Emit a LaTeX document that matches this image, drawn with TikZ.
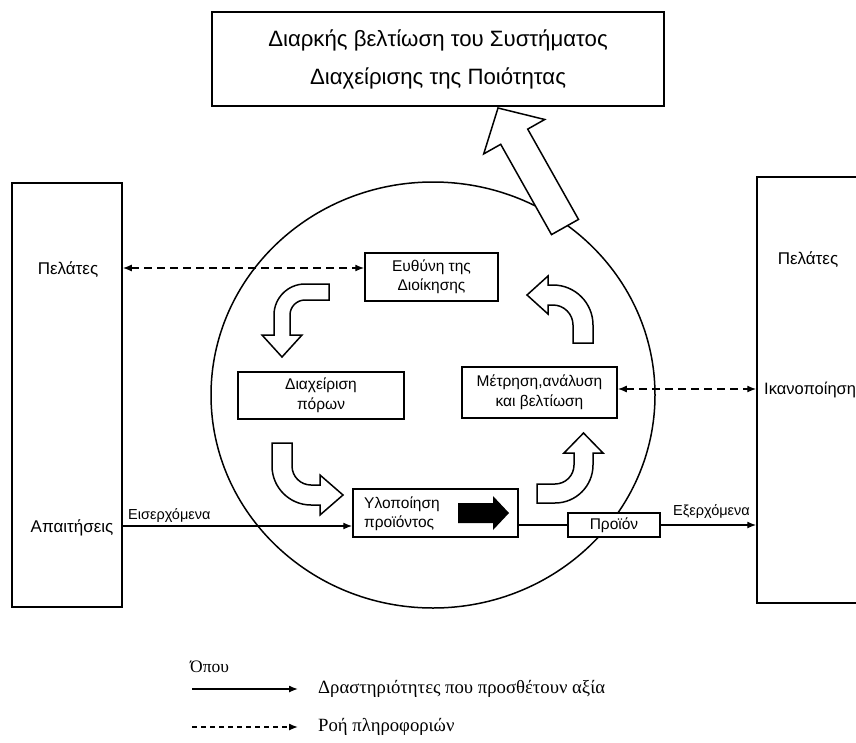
\documentclass[tikz,border=0pt]{standalone}
\usepackage{fontspec}
\setmainfont{Liberation Sans}
\newfontfamily\legendfont{Liberation Serif}
\usetikzlibrary{arrows.meta}
\begin{document}
\begin{tikzpicture}[x=1pt,y=-1pt,
  box/.style={draw, line width=1.5pt, fill=white, inner sep=0pt, align=center},
  lbl/.style={inner sep=0pt, font=\fontsize{17}{20}\selectfont},
  inbox/.style={box, font=\fontsize{15.5}{19.5}\selectfont},
  flow/.style={line width=1.4pt, -{Latex[length=9pt,width=7pt]}},
  info/.style={line width=1.4pt, dash pattern=on 8pt off 5pt, {Latex[length=9pt,width=7pt]}-{Latex[length=9pt,width=7pt]}},
  legdash/.style={line width=1.4pt, dash pattern=on 5pt off 4pt, -{Latex[length=9pt,width=7pt]}},
  block/.style={draw, line width=1.5pt, fill=white, line join=miter},
  small/.style={inner sep=1pt, font=\fontsize{14.5}{17}\selectfont},
  legtext/.style={anchor=west, inner sep=0pt, font=\legendfont\fontsize{18.7}{22}\selectfont}
]
\useasboundingbox (0,0) rectangle (856,742);
\clip (0,0) rectangle (856,742);

% central circle
\draw[line width=1.5pt] (433,395) ellipse [x radius=222, y radius=213];

% big arrow towards the top box
\path[block] (578.5,219.4) -- (527.7,129.1) -- (544.7,119.5) -- (498,108)
  -- (483.7,153.9) -- (500.7,144.3) -- (551.5,234.6) -- cycle;

% top box
\node[box, minimum width=452pt, minimum height=94pt, font=\fontsize{22.2}{38}\selectfont] (top) at (438,59)
  {Διαρκής βελτίωση του Συστήματος\\Διαχείρισης της Ποιότητας};

% side boxes
\node[box, minimum width=110pt, minimum height=424pt] (lb) at (67,395) {};
\node[box, minimum width=146pt, minimum height=426pt] (rb) at (830,390) {};
\node[lbl] (lpel) at (68,270) {Πελάτες};
\node[lbl] (apa) at (72,528) {Απαιτήσεις};
\node[lbl] (rpel) at (808,260) {Πελάτες};
\node[lbl, anchor=west, font=\fontsize{16.5}{18}\selectfont] (ikan) at (764,390) {Ικανοποίηση};

% inner boxes
\node[inbox, minimum width=133pt, minimum height=48pt] (eu) at (431.5,277) {Ευθύνη της\\Διοίκησης};
\node[inbox, minimum width=166pt, minimum height=47pt] (dp) at (321,395.5) {Διαχείριση\\πόρων};
\node[inbox, minimum width=155pt, minimum height=51pt] (mt) at (539.5,392.5) {Μέτρηση,ανάλυση\\και βελτίωση};
\node[box, minimum width=165pt, minimum height=48pt] (ylo) at (435.5,513) {};
\node[inner sep=0pt, anchor=west, align=left, font=\fontsize{15.5}{19.5}\selectfont] (ylot) at (364,514) {Υλοποίηση\\προϊόντος};
\fill (458,503) -- (493,503) -- (493,496) -- (509,513) -- (493,530) -- (493,523) -- (458,523) -- cycle;
\node[inbox, minimum width=92pt, minimum height=24pt] (pro) at (614,525) {Προϊόν};

% bent block arrows
\path[block] (329,284) -- (305,284) .. controls (287.9,284) and (274,297.9) .. (274,315)
  -- (274,335) -- (262,335) -- (282,357) -- (302,335) -- (290,335) -- (290,315)
  .. controls (290,306.7) and (296.7,300) .. (305,300) -- (329,300) -- cycle;
\path[block] (272,443) -- (272,466) .. controls (272,487.5) and (289.5,505) .. (311,505)
  -- (320,505) -- (320,515) -- (343,495) -- (320,475) -- (320,485) -- (311,485)
  .. controls (300.5,485) and (292,476.5) .. (292,466) -- (292,443) -- cycle;
\path[block] (537,503) -- (555,503) .. controls (576,503) and (593,486) .. (593,465)
  -- (593,453) -- (603,453) -- (583.5,433) -- (564,453) -- (574,453) -- (574,465)
  .. controls (574,475.5) and (565.5,484) .. (555,484) -- (537,484) -- cycle;
\path[block] (593,343) -- (593,325) .. controls (593,302.9) and (575.1,285) .. (553,285)
  -- (548,285) -- (548,276) -- (527,295) -- (548,314) -- (548,305) -- (553,305)
  .. controls (564,305) and (573,314) .. (573,325) -- (573,343) -- cycle;

% connectors
\coordinate (yin) at (0,526);
\draw[flow] (lb.east |- yin) -- (ylo.west |- yin);
\draw[line width=1.4pt] (ylo.east |- pro.west) -- (pro.west);
\draw[flow] (pro.east) -- (rb.west |- pro.east);
\coordinate (ypel) at (0,268);
\draw[info] (lb.east |- ypel) -- (eu.west |- ypel);
\coordinate (yik) at (0,389);
\draw[info] (mt.east |- yik) -- (rb.west |- yik);
\node[small, anchor=south west] (eis) at (127,524) {Εισερχόμενα};
\node[small, anchor=south west] (exe) at (672,520) {Εξερχόμενα};

% legend
\node[legtext, font=\legendfont\fontsize{17.5}{20}\selectfont] (opou) at (190,667) {Όπου};
\coordinate (la1) at (192,689);
\coordinate (lb1) at (298,689);
\draw[flow] (la1) -- (lb1);
\node[legtext] (lt1) at (318,689) {Δραστηριότητες που προσθέτουν αξία};
\coordinate (la2) at (192,727);
\coordinate (lb2) at (298,727);
\draw[legdash] (la2) -- (lb2);
\node[legtext] (lt2) at (318,727) {Ροή πληροφοριών};
\end{tikzpicture}
\end{document}
